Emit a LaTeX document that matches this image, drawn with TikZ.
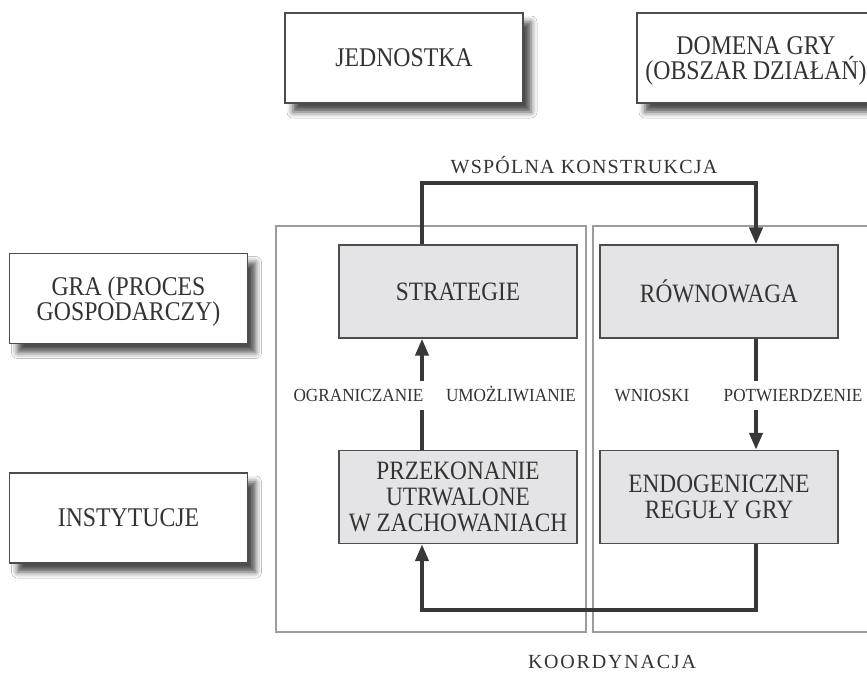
\documentclass[tikz,border=0pt]{standalone}
\usepackage{fontspec}
\setmainfont{Liberation Serif}[FakeStretch=0.88]
\newfontfamily\labelfont{Liberation Serif}[FakeStretch=0.93]
\newfontfamily\captionfont{Liberation Serif}[LetterSpace=6]
\newfontfamily\wideletters{Liberation Serif}[LetterSpace=9]
\usetikzlibrary{arrows.meta,shadows.blur}

\definecolor{ink}{HTML}{333333}
\definecolor{frame}{HTML}{4D4D4D}
\definecolor{panel}{HTML}{E4E4E6}
\definecolor{regionline}{HTML}{9C9C9C}
\definecolor{flow}{HTML}{383838}

\begin{document}
\begin{tikzpicture}[x=1pt,y=-1pt,
  levelbox/.style={draw=frame, line width=1.6pt, fill=white,
    minimum width=238pt, minimum height=90pt, inner sep=0pt,
    align=center, text=ink, font=\fontsize{27}{25}\selectfont,
    text depth=0pt,
    blur shadow={shadow xshift=8pt, shadow yshift=-9pt,
      shadow blur radius=6pt, shadow opacity=70}},
  stagebox/.style={draw=frame, line width=1.4pt, fill=panel,
    minimum width=238pt, minimum height=93pt, inner sep=0pt,
    align=center, text=ink, font=\fontsize{26.5}{26}\selectfont,
    text depth=0pt},
  regionbox/.style={draw=regionline, line width=2pt},
  flowline/.style={draw=flow, line width=4pt,
    -{Triangle[width=13pt,length=17pt]}},
  flowlabel/.style={text=ink, font=\labelfont\fontsize{18.5}{19}\selectfont,
    fill=white, inner xsep=3pt, inner ysep=8pt,
    text height=13pt, text depth=0pt, anchor=base},
]
\useasboundingbox (0,0) rectangle (867,673);
\clip (0,0) rectangle (867,673);
\fill[white] (0,0) rectangle (867,673);

% levels of analysis
\node[levelbox] (jedn)   at (404,58)    {JEDNOSTKA};
\node[levelbox] (domena) at (756,58)    {DOMENA GRY\\(OBSZAR DZIAŁAŃ)};
\node[levelbox] (gra)    at (128.5,298.5) {GRA (PROCES\\GOSPODARCZY)};
\node[levelbox] (inst)   at (128.5,518) {INSTYTUCJE};

% two framed regions
\draw[regionbox] (276,226) rectangle (586,632);
\draw[regionbox] (593,226) rectangle (903,632);

% stages of the cycle
\node[stagebox] (strat) at (458,291.5) {STRATEGIE};
\node[stagebox] (rown)  at (719,291.5) {RÓWNOWAGA};
\node[stagebox] (przek) at (458,497)   {PRZEKONANIE\\UTRWALONE\\W ZACHOWANIACH};
\node[stagebox] (endo)  at (719,497)   {ENDOGENICZNE\\REGUŁY GRY};

% routing guides for the connectors
\coordinate (lx) at (422,0);
\coordinate (rx) at (756,0);
\coordinate (toprail) at (0,183);
\coordinate (bottomrail) at (0,610);

\draw[flowline] (strat.north -| lx) |- (toprail -| rx) -- (rown.north -| rx);
\draw[flowline] (przek.north -| lx) -- (strat.south -| lx);
\draw[flowline] (rown.south -| rx) -- (endo.north -| rx);
\draw[flowline] (endo.south -| rx) |- (bottomrail -| lx) -- (przek.south -| lx);

% connector labels
\node[flowlabel] (ogr)  at (358.5,401.5) {OGRANICZANIE};
\node[flowlabel] (umoz) at (511,401.5)   {UMOŻLIWIANIE};
\node[flowlabel] (wnio) at (652,401.5)   {WNIOSKI};
\node[flowlabel] (potw) at (793,401.5)   {POTWIERDZENIE};

\node[anchor=base, text=ink, font=\captionfont\fontsize{20}{20}\selectfont]
  (wspolna) at (584,173) {WSPÓLNA KONSTRUKCJA};
\node[anchor=base, text=ink, font=\wideletters\fontsize{20}{20}\selectfont]
  (koord) at (612,668) {KOORDYNACJA};
\end{tikzpicture}
\end{document}
